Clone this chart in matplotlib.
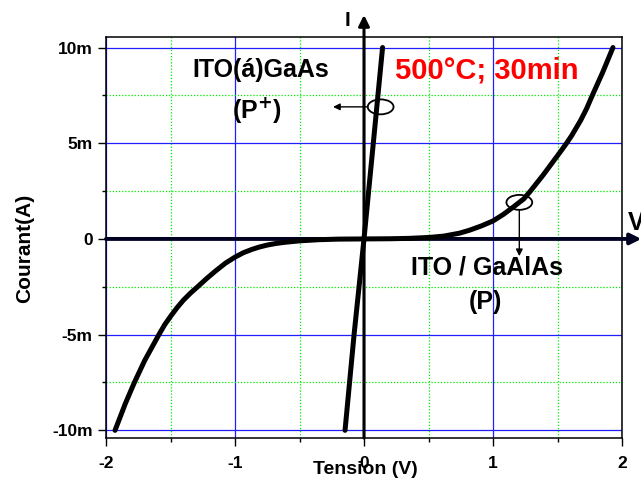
import numpy as np
import matplotlib
matplotlib.use('Agg')
import matplotlib.pyplot as plt
from matplotlib.patches import Ellipse

plt.rcParams['font.family'] = ['Liberation Sans', 'DejaVu Sans']
plt.rcParams['font.weight'] = 'bold'

# ITO / GaAs (P+) : tension (V), courant (mA)
v_gaas = [-0.147, -0.077, 0.0, 0.072, 0.144]
i_gaas = [-10.0, -5.0, 0.0, 5.0, 10.0]

# ITO / GaAlAs (P)
v_gaalas = [-1.93, -1.89, -1.85, -1.78, -1.70, -1.59, -1.545, -1.50, -1.45, -1.40,
            -1.345, -1.29, -1.22, -1.15, -1.075, -1.00, -0.935, -0.87, -0.81, -0.75,
            -0.685, -0.62, -0.50, -0.35, -0.20, 0.0, 0.20, 0.35, 0.51, 0.62,
            0.74, 0.82, 0.91, 1.00, 1.08, 1.16, 1.24, 1.29, 1.39, 1.445,
            1.50, 1.535, 1.57, 1.61, 1.645, 1.68, 1.725, 1.77, 1.81, 1.85,
            1.89, 1.93]
i_gaalas = [-10.0, -9.3, -8.6, -7.5, -6.35, -5.0, -4.48, -4.05, -3.6, -3.2,
            -2.83, -2.5, -2.07, -1.67, -1.27, -0.95, -0.72, -0.55, -0.42, -0.32,
            -0.24, -0.18, -0.10, -0.04, -0.01, 0.0, 0.01, 0.03, 0.08, 0.15,
            0.30, 0.46, 0.68, 0.94, 1.28, 1.68, 2.1, 2.5, 3.35, 3.85,
            4.35, 4.67, 5.0, 5.4, 5.8, 6.2, 6.8, 7.5, 8.1, 8.7,
            9.35, 10.0]

x_ticks = [-2, -1, 0, 1, 2]
y_ticks = [-10, -5, 0, 5, 10]
y_labels = ['-10m', '-5m', '0', '5m', '10m']

fig = plt.figure(figsize=(6.41, 4.78), dpi=100)
ax = fig.add_axes([106 / 641, 1 - 438 / 478, 516 / 641, 401 / 478])

ax.set_xlim(-2, 2)
ax.set_ylim(-10.4, 10.55)
ax.set_xticks(x_ticks)
ax.set_xticklabels([str(t) for t in x_ticks])
ax.set_yticks(y_ticks)
ax.set_yticklabels(y_labels)
ax.set_xticks([-1.5, -0.5, 0.5, 1.5], minor=True)
ax.set_yticks([-7.5, -2.5, 2.5, 7.5], minor=True)
ax.tick_params(which='major', direction='out', length=6, width=1, labelsize=12.5)
ax.tick_params(axis='x', which='major', pad=7)
ax.tick_params(which='minor', direction='out', length=3, width=1)
for s in ax.spines.values():
    s.set_linewidth(1.1)

ax.grid(which='major', color='#2020ff', lw=0.9, ls='-')
ax.grid(which='minor', color='#00ee00', lw=0.9, ls=(0, (1, 1.5)))
ax.set_axisbelow(True)

# axes through origin with arrows
ax.annotate('', xy=(0, 11.7), xytext=(0, -10.4), annotation_clip=False,
            arrowprops=dict(arrowstyle='-|>', lw=2.2, color='black', mutation_scale=16,
                            shrinkA=0, shrinkB=0))
ax.annotate('', xy=(2.15, 0), xytext=(-2, 0), annotation_clip=False,
            arrowprops=dict(arrowstyle='-|>', lw=2.8, color='#000020', mutation_scale=16,
                            shrinkA=0, shrinkB=0))

ax.plot(v_gaas, i_gaas, color='black', lw=3.6, solid_capstyle='round', zorder=4)
ax.plot(v_gaalas, i_gaalas, color='black', lw=3.6, solid_capstyle='round',
        solid_joinstyle='round', zorder=4)

ax.add_patch(Ellipse((0.129, 6.9), 0.2, 0.78, fill=False, lw=1.3, color='black', zorder=5))
ax.add_patch(Ellipse((1.204, 1.91), 0.2, 0.78, fill=False, lw=1.3, color='black', zorder=5))
ax.annotate('', xy=(-0.24, 6.9), xytext=(0.03, 6.9),
            arrowprops=dict(arrowstyle='-|>', lw=1, color='black', mutation_scale=10,
                            shrinkA=0, shrinkB=0))
ax.annotate('', xy=(1.204, -0.9), xytext=(1.204, 1.52),
            arrowprops=dict(arrowstyle='-|>', lw=1, color='black', mutation_scale=10,
                            shrinkA=0, shrinkB=0))

ax.text(-0.8, 8.8, 'ITO(á)GaAs', fontsize=18, ha='center', va='center', zorder=6)
ax.text(-0.83, 6.75, '(P$^{+}$)', fontsize=18, ha='center', va='center', zorder=6)
ax.text(0.95, 8.8, '500°C; 30min', fontsize=21, color='#ff0000', ha='center',
        va='center', zorder=6)
ax.text(0.95, -1.5, 'ITO / GaAlAs', fontsize=18, ha='center', va='center', zorder=6)
ax.text(0.94, -3.3, '(P)', fontsize=18, ha='center', va='center', zorder=6)

fig.text(347 / 641, 1 - 20 / 478, 'I', fontsize=15, ha='center', va='center')
fig.text(628 / 641, 1 - 223 / 478, 'V', fontsize=18, ha='left', va='center')
fig.text(365 / 641, 1 - 469 / 478, 'Tension (V)', fontsize=14, ha='center', va='center')
fig.text(25 / 641, 1 - 248 / 478, 'Courant(A)', fontsize=15, ha='center', va='center',
         rotation=90)

fig.savefig('out.png', dpi=100)
